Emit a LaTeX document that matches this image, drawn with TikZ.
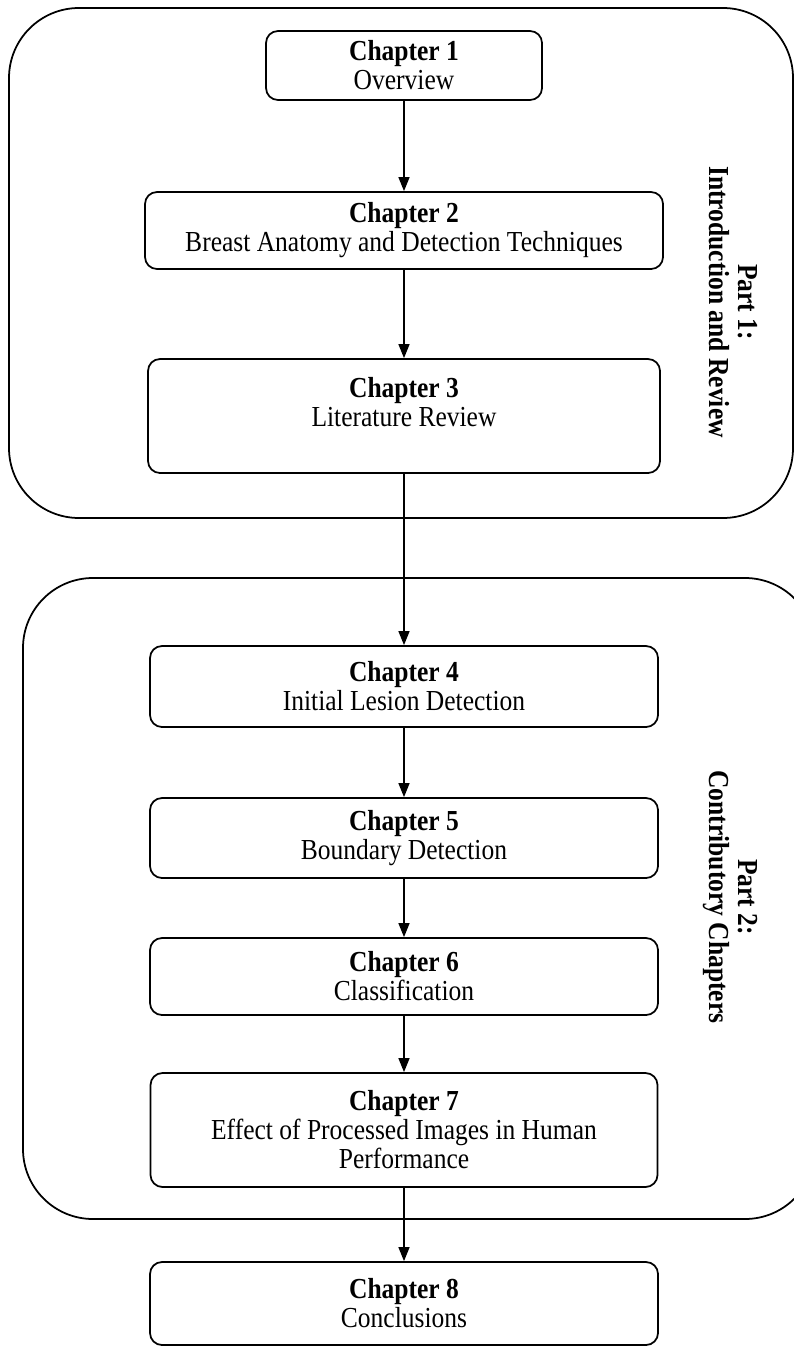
\documentclass[tikz,border=0pt]{standalone}
\usepackage{fontspec}
\setmainfont{Liberation Serif}[FakeStretch=0.88]
\usetikzlibrary{arrows.meta}

\begin{document}
\begin{tikzpicture}[font=\fontsize{16.5}{16.5}\selectfont, line join=round, line cap=round,
	>={Triangle[length=2.8mm,width=2.2mm]},
	chap/.style={draw, line width=1pt, rounded corners=2.4mm, align=center, inner sep=0pt},
	part/.style={draw, line width=1pt, rounded corners=14mm},
	partlabel/.style={rotate=-90, align=center, font=\fontsize{16.5}{16.5}\selectfont\bfseries}]
	\useasboundingbox (0,0) rectangle (15.88,-26.96);
	
	%Hai khung lon
	\draw[part] (0.18,-0.16) rectangle (15.86,-10.36);
	\draw[part] (0.46,-11.56) rectangle (16.3,-24.38);
	\node[partlabel] (p1) at (14.66,-6.04) {Part 1:\\Introduction and Review};
	\node[partlabel] (p2) at (14.6,-17.94) {Part 2:\\Contributory Chapters};
	
	%Cac chuong
	\node[chap, minimum width=5.52cm, minimum height=1.38cm] (c1) at (8.08,-1.31) {\textbf{Chapter 1}\\Overview};
	\node[chap, minimum width=10.36cm, minimum height=1.54cm] (c2) at (8.08,-4.61) {\textbf{Chapter 2}\\Breast Anatomy and Detection Techniques};
	\node[chap, minimum width=10.24cm, minimum height=2.28cm] (c3) at (8.08,-8.32) {\textbf{Chapter 3}\\Literature Review\\ ~};
	\node[chap, minimum width=10.16cm, minimum height=1.62cm] (c4) at (8.08,-13.73) {\textbf{Chapter 4}\\Initial Lesion Detection};
	\node[chap, minimum width=10.16cm, minimum height=1.6cm] (c5) at (8.08,-16.76) {\textbf{Chapter 5}\\Boundary Detection};
	\node[chap, minimum width=10.16cm, minimum height=1.54cm] (c6) at (8.08,-19.53) {\textbf{Chapter 6}\\Classification};
	\node[chap, minimum width=10.14cm, minimum height=2.28cm] (c7) at (8.08,-22.6) {\textbf{Chapter 7}\\Effect of Processed Images in Human\\Performance};
	\node[chap, minimum width=10.16cm, minimum height=1.66cm] (c8) at (8.08,-26.07) {\textbf{Chapter 8}\\Conclusions};
	
	\foreach \a/\b in {c1/c2,c2/c3,c3/c4,c4/c5,c5/c6,c6/c7,c7/c8}
	\draw[->, line width=.8pt] (\a) -- (\b);
\end{tikzpicture}
\end{document}
